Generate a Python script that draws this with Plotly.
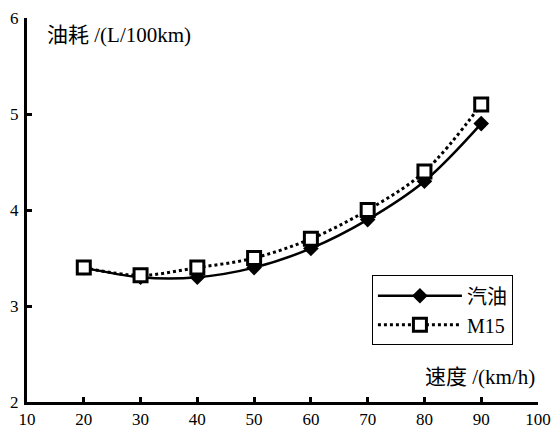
import plotly.graph_objects as go

speed = [20, 30, 40, 50, 60, 70, 80, 90]
gasoline = [3.4, 3.3, 3.3, 3.4, 3.6, 3.9, 4.3, 4.9]
m15 = [3.4, 3.32, 3.4, 3.5, 3.7, 4.0, 4.4, 5.1]
x_ticks = [10, 20, 30, 40, 50, 60, 70, 80, 90, 100]
y_ticks = [2, 3, 4, 5, 6]

FONT = "Liberation Serif, Noto Sans CJK SC, serif"

fig = go.Figure()
fig.add_trace(go.Scatter(
    x=speed, y=gasoline, name="汽油", mode="lines+markers",
    line=dict(color="black", width=2.5, shape="spline", smoothing=1),
    marker=dict(symbol="diamond", size=12, color="black"),
))
fig.add_trace(go.Scatter(
    x=speed, y=m15, name="M15", mode="lines+markers",
    line=dict(color="black", width=3, dash="dot", shape="spline", smoothing=1),
    marker=dict(symbol="square", size=13, color="white", line=dict(color="black", width=3)),
))

axis_common = dict(showgrid=False, zeroline=False, showline=True, linecolor="black", linewidth=3,
                   ticks="inside", ticklen=5, tickwidth=3, tickcolor="black",
                   tickfont=dict(size=17), fixedrange=True, automargin=False)

fig.update_layout(
    width=558, height=430,
    margin=dict(l=27, r=20, t=18, b=28, autoexpand=False),
    paper_bgcolor="white", plot_bgcolor="white",
    font=dict(family=FONT, size=17, color="black"),
    showlegend=True,
    legend=dict(x=0.675, y=0.33, xanchor="left", yanchor="top",
                bordercolor="black", borderwidth=1, bgcolor="white",
                font=dict(size=20), itemwidth=84, tracegroupgap=0),
    xaxis=dict(range=[10, 100], tickvals=x_ticks, ticklabelstandoff=0, **axis_common),
    yaxis=dict(range=[2, 6], tickvals=y_ticks, ticklabelstandoff=2, **axis_common),
    annotations=[
        dict(text="油耗 /(L/100km)", xref="paper", yref="paper", x=0.035, y=0.956,
             xanchor="left", yanchor="middle", showarrow=False, font=dict(size=21)),
        dict(text="速度 /(km/h)", xref="paper", yref="paper", x=0.998, y=0.065,
             xanchor="right", yanchor="middle", showarrow=False, font=dict(size=21)),
    ],
)

fig.write_html("out.html")
